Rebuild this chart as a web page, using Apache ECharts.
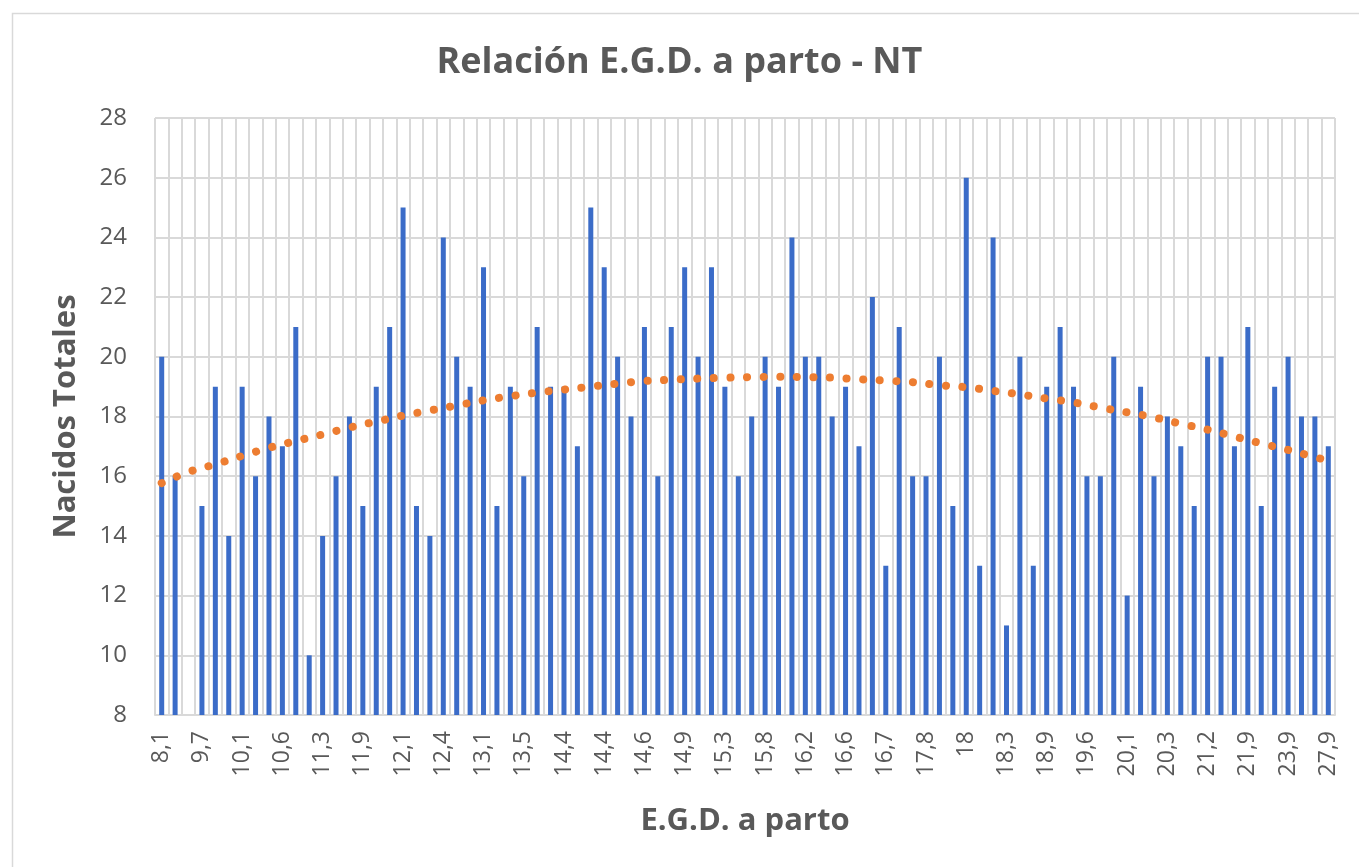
<!DOCTYPE html>
<html>
<head>
<meta charset="utf-8">
<script src="https://cdn.jsdelivr.net/npm/echarts@6/dist/echarts.min.js"></script>
<style>
html,body{margin:0;padding:0;background:#fff;}
#chart{width:1359px;height:867px;}
</style>
</head>
<body>
<div id="chart"></div>
<script>
// Categories (E.G.D. a parto); every third one is shown as a tick label
const categories = [
  '8,1','8,9','9,2','9,7','9,8','10','10,1','10,3','10,5','10,6',
  '10,9','11,1','11,3','11,5','11,7','11,9','12','12','12,1','12,2',
  '12,3','12,4','12,7','12,9','13,1','13,2','13,4','13,5','13,9','14,1',
  '14,4','14,4','14,4','14,4','14,5','14,6','14,6','14,7','14,8','14,9',
  '15','15,1','15,3','15,4','15,6','15,8','15,9','16,1','16,2','16,3',
  '16,5','16,6','16,6','16,7','16,7','17,2','17,5','17,8','17,9','18',
  '18','18,1','18,2','18,3','18,5','18,7','18,9','19,1','19,3','19,6',
  '19,8','20','20,1','20,2','20,3','20,3','20,7','21','21,2','21,5',
  '21,7','21,9','22,4','23,2','23,9','24,6','26','27,9'
];

// Nacidos Totales per category
const nacidosTotales = [
  20,16,8,15,19,14,19,16,18,17,
  21,10,14,16,18,15,19,21,25,15,
  14,24,20,19,23,15,19,16,21,19,
  19,17,25,23,20,18,21,16,21,23,
  20,23,19,16,18,20,19,24,20,20,
  18,19,17,22,13,21,16,16,20,15,
  26,13,24,11,20,13,19,21,19,16,
  16,20,12,19,16,18,17,15,20,20,
  17,21,15,19,20,18,18,17
];

// Polynomial trend line (null = not read, joined smoothly)
const tendencia = [
  15.77,null,16.14,null,16.40,null,16.68,null,16.95,null,
  17.18,null,17.40,null,17.63,null,17.83,null,18.03,null,
  18.20,null,18.37,null,18.54,null,18.68,null,18.80,null,
  18.90,null,19.00,null,19.10,null,19.19,null,19.23,null,
  19.27,null,19.30,null,19.32,null,19.33,null,19.32,null,
  19.30,null,19.25,null,19.20,null,19.15,null,19.05,null,
  18.98,null,18.86,null,18.74,null,18.60,null,18.47,null,
  18.30,null,18.14,null,17.97,null,17.76,null,17.56,null,
  17.33,null,17.10,null,16.88,null,16.64,16.52
];

const yTicks = { min: 8, max: 28, interval: 2 };

const chart = echarts.init(document.getElementById('chart'), null, {renderer: 'canvas'});
const gray = '#595959';
const font = '"Open Sans", "Liberation Sans", sans-serif';

chart.setOption({
  backgroundColor: '#ffffff',
  animation: false,
  graphic: [{
    type: 'rect',
    left: 10, top: 11,
    shape: {width: 1400, height: 900},
    style: {fill: 'none', stroke: '#d9d9d9', lineWidth: 1.5},
    silent: true
  }],
  title: {
    text: 'Relación E.G.D. a parto - NT',
    left: 'center',
    top: 40,
    textStyle: {color: gray, fontFamily: font, fontWeight: 'bold', fontSize: 36}
  },
  grid: {left: 155, right: 24, top: 118, bottom: 152, containLabel: false},
  xAxis: {
    type: 'category',
    data: categories,
    boundaryGap: true,
    name: 'E.G.D. a parto',
    nameLocation: 'middle',
    nameGap: 91,
    nameTextStyle: {color: gray, fontFamily: font, fontWeight: 'bold', fontSize: 31},
    axisLine: {show: true, lineStyle: {color: '#d9d9d9', width: 2}},
    axisTick: {show: false},
    axisLabel: {
      interval: 2,
      rotate: 90,
      margin: 16,
      color: gray,
      fontFamily: font,
      fontSize: 23
    },
    splitLine: {show: true, interval: 0, lineStyle: {color: '#d9d9d9', width: 2}}
  },
  yAxis: {
    type: 'value',
    min: yTicks.min,
    max: yTicks.max,
    interval: yTicks.interval,
    name: 'Nacidos Totales',
    nameLocation: 'middle',
    nameGap: 73,
    nameTextStyle: {color: gray, fontFamily: font, fontWeight: 'bold', fontSize: 31},
    axisLine: {show: false},
    axisTick: {show: false},
    axisLabel: {color: gray, fontFamily: font, fontSize: 24, margin: 28},
    splitLine: {show: true, lineStyle: {color: '#d9d9d9', width: 2}}
  },
  series: [
    {
      name: 'NT',
      type: 'bar',
      data: nacidosTotales,
      barWidth: 5,
      itemStyle: {color: '#3b6cc8'},
      z: 2
    },
    {
      name: 'Polinómica (NT)',
      type: 'line',
      data: tendencia,
      connectNulls: true,
      smooth: true,
      showSymbol: false,
      symbol: 'none',
      lineStyle: {color: '#ED7D31', width: 8, type: [0.1, 16.5], cap: 'round'},
      z: 3
    }
  ]
});
</script>
</body>
</html>
